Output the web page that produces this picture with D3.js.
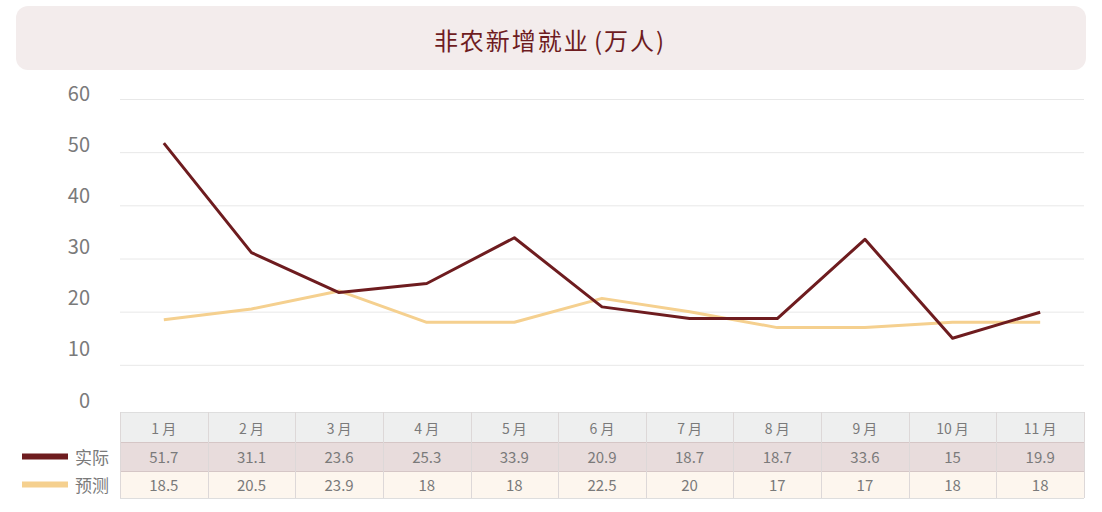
<!DOCTYPE html>
<html><head><meta charset="utf-8">
<script src="https://cdn.jsdelivr.net/npm/d3@7"></script>
<style>
html,body{margin:0;padding:0;background:#fff;}
svg{display:block;font-family:"Noto Sans CJK SC","Noto Sans",sans-serif;}
</style></head>
<body><svg id="c" width="1102" height="512"></svg>
<script>
const titleMain = "非农新增就业";
const titleUnit = "万人";
const months = ["1月","2月","3月","4月","5月","6月","7月","8月","9月","10月","11月"];
const actual = [51.7,31.1,23.6,25.3,33.9,20.9,18.7,18.7,33.6,15,19.9];
const forecast = [18.5,20.5,23.9,18,18,22.5,20,17,17,18,18];
const seriesNames = ["实际","预测"];
const yTicks = [0,10,20,30,40,50,60];

const svg = d3.select("#c");
const colors = ["#6e1c1f","#f5d08f"];
const rowFills = ["#e8dcdc","#fdf6ee"];

// title box
svg.append("rect").attr("x",16).attr("y",6).attr("width",1070).attr("height",64).attr("rx",12).attr("fill","#f3ecec");
const tt = svg.append("text").attr("x",550).attr("y",39).attr("text-anchor","middle").attr("dominant-baseline","central")
  .attr("font-size",24).attr("letter-spacing",2).attr("fill","#6e1c1f");
tt.append("tspan").text(titleMain);
tt.append("tspan").attr("dx",4).text("(");
tt.append("tspan").attr("dx",0).text(titleUnit);
tt.append("tspan").attr("dx",0).text(")");

const x = d3.scaleBand().domain(months).range([120,1084]);
const y = d3.scaleLinear().domain([0,60]).range([418,99]);
const yLab = d3.scaleLinear().domain([0,60]).range([399,92]);

svg.append("g").selectAll("line").data(yTicks).join("line")
  .attr("x1",120).attr("x2",1084).attr("y1",d=>y(d)+0.5).attr("y2",d=>y(d)+0.5)
  .attr("stroke","#e8e8e8").attr("stroke-width",1);
svg.append("g").selectAll("text").data(yTicks).join("text")
  .attr("x",90).attr("y",d=>yLab(d)).attr("text-anchor","end").attr("dominant-baseline","central")
  .attr("font-size",20).attr("fill","#7a7a7a").text(d=>d);

const line = d3.line().x((d,i)=>x(months[i])+x.bandwidth()/2).y(d=>y(d));
[forecast,actual].forEach((s,k)=>{
  const ci = k===0?1:0;
  svg.append("path").datum(s).attr("d",line).attr("fill","none")
    .attr("stroke",colors[ci]).attr("stroke-width",3).attr("stroke-linejoin","round");
});

const rowsY = [[412,442],[442,471],[471,498]];
const tbl = svg.append("g");
tbl.append("rect").attr("x",120).attr("y",rowsY[0][0]).attr("width",964).attr("height",rowsY[0][1]-rowsY[0][0]).attr("fill","#eeefef");
[actual,forecast].forEach((s,k)=>{
  const [y0,y1] = rowsY[k+1];
  tbl.append("rect").attr("x",120).attr("y",y0).attr("width",964).attr("height",y1-y0).attr("fill",rowFills[k]);
});
const hl = [412,442,471,498];
tbl.selectAll("line.h").data(hl).join("line").attr("class","h")
  .attr("x1",120).attr("x2",1084).attr("y1",d=>d+0.5).attr("y2",d=>d+0.5)
  .attr("stroke",(d,i)=>i===1||i===2?"#d5c6c6":"#dedede");
const vl = months.map(m=>x(m)).concat([1084]);
tbl.selectAll("line.v").data(vl).join("line").attr("class","v")
  .attr("x1",d=>Math.round(d)+0.5).attr("x2",d=>Math.round(d)+0.5).attr("y1",412).attr("y2",498)
  .attr("stroke","#ddd8d8");
tbl.selectAll("text.hd").data(months).join("text").attr("class","hd")
  .attr("x",d=>x(d)+x.bandwidth()/2).attr("y",(rowsY[0][0]+rowsY[0][1])/2+1)
  .attr("text-anchor","middle").attr("dominant-baseline","central").attr("font-size",14).attr("fill","#7a7a7a")
  .text(d=>d.replace("月"," 月"));
[actual,forecast].forEach((s,k)=>{
  const [y0,y1] = rowsY[k+1];
  tbl.append("g").selectAll("text").data(s).join("text")
    .attr("x",(d,i)=>x(months[i])+x.bandwidth()/2).attr("y",(y0+y1)/2)
    .attr("text-anchor","middle").attr("dominant-baseline","central").attr("font-size",15).attr("fill","#7a7a7a")
    .text(d=>d);
  const ly = (y0+y1)/2;
  svg.append("line").attr("x1",22).attr("x2",68).attr("y1",ly).attr("y2",ly).attr("stroke",colors[k]).attr("stroke-width",6);
  svg.append("text").attr("x",75).attr("y",ly).attr("dominant-baseline","central").attr("font-size",17).attr("fill","#7a7a7a").text(seriesNames[k]);
});
</script></body></html>
